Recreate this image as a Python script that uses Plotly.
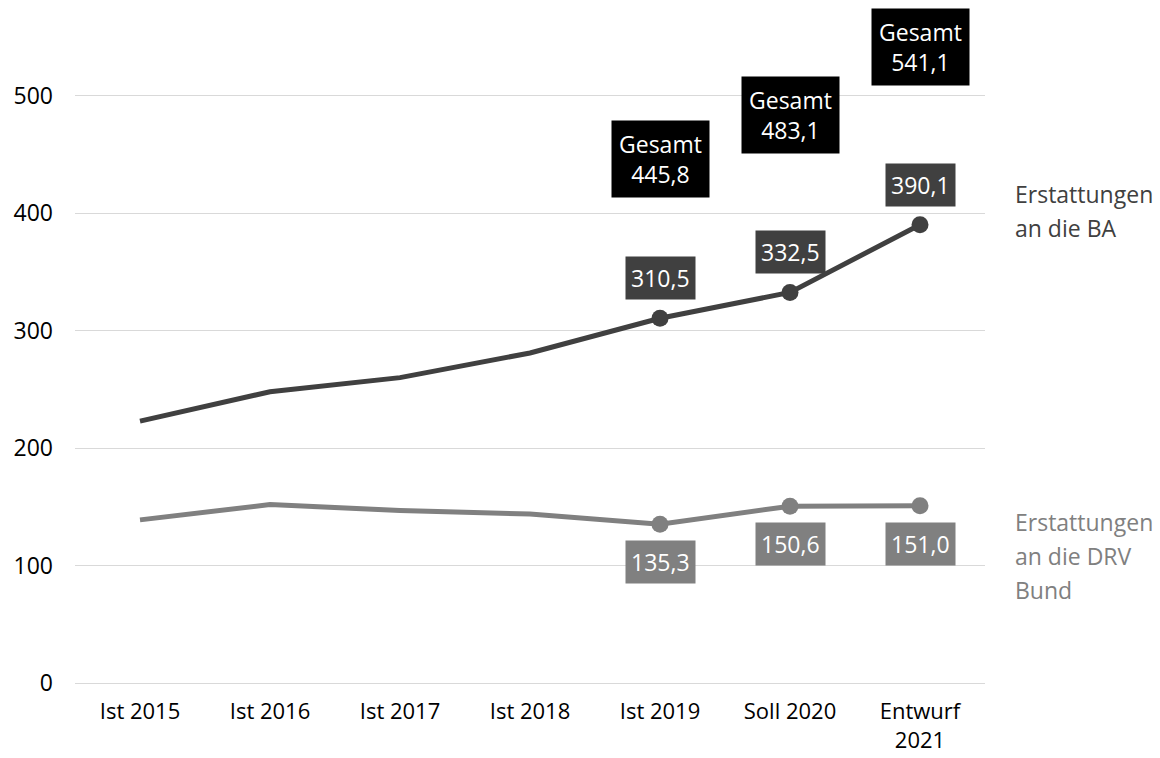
import plotly.graph_objects as go

categories = ["Ist 2015", "Ist 2016", "Ist 2017", "Ist 2018", "Ist 2019", "Soll 2020", "Entwurf<br>2021"]
ba_values = [223, 248, 260, 281, 310.5, 332.5, 390.1]
drv_values = [139, 152, 147, 144, 135.3, 150.6, 151.0]
total_values = [None, None, None, None, 445.8, 483.1, 541.1]
labelled = [4, 5, 6]
ba_name_lines = ["Erstattungen", "an die BA"]
drv_name_lines = ["Erstattungen", "an die DRV", "Bund"]

BA_COLOR = "#404040"
DRV_COLOR = "#808080"
FONT = "Open Sans"
FS = 23

x_idx = list(range(len(categories)))

fig = go.Figure()
for vals, col in [(ba_values, BA_COLOR), (drv_values, DRV_COLOR)]:
    fig.add_trace(go.Scatter(x=x_idx, y=vals, mode="lines", line=dict(color=col, width=5),
                             showlegend=False, hoverinfo="skip"))
    fig.add_trace(go.Scatter(x=[x_idx[i] for i in labelled], y=[vals[i] for i in labelled],
                             mode="markers", marker=dict(color=col, size=17),
                             showlegend=False, hoverinfo="skip", cliponaxis=False))

def fmt(v):
    return f"{v:.1f}".replace(".", ",")

ann = []
for i in labelled:
    ann.append(dict(x=x_idx[i], y=ba_values[i], xref="x", yref="y", yshift=40,
                    text=fmt(ba_values[i]), showarrow=False, bgcolor=BA_COLOR,
                    font=dict(color="white", size=FS, family=FONT), borderpad=5))
    ann.append(dict(x=x_idx[i], y=drv_values[i], xref="x", yref="y", yshift=-38,
                    text=fmt(drv_values[i]), showarrow=False, bgcolor=DRV_COLOR,
                    font=dict(color="white", size=FS, family=FONT), borderpad=5))
    ann.append(dict(x=x_idx[i], y=total_values[i], xref="x", yref="y",
                    text="Gesamt<br>" + fmt(total_values[i]), showarrow=False, bgcolor="#000000",
                    font=dict(color="white", size=FS, family=FONT), borderpad=7))

LINE_H = 34
for k, line in enumerate(ba_name_lines):
    ann.append(dict(x=1, xref="paper", xshift=28, xanchor="left", y=ba_values[-1], yref="y",
                    yshift=31 - k * LINE_H, text=line, showarrow=False, align="left",
                    font=dict(color=BA_COLOR, size=FS, family=FONT)))
for k, line in enumerate(drv_name_lines):
    ann.append(dict(x=1, xref="paper", xshift=28, xanchor="left", y=drv_values[-1], yref="y",
                    yshift=-16 - k * LINE_H, text=line, showarrow=False, align="left",
                    font=dict(color=DRV_COLOR, size=FS, family=FONT)))

fig.update_layout(
    width=1160, height=758,
    margin=dict(l=75, r=175, t=25, b=63),
    paper_bgcolor="white", plot_bgcolor="white",
    font=dict(family=FONT, size=FS, color="#000000"),
    annotations=ann,
    xaxis=dict(tickmode="array", tickvals=x_idx, ticktext=categories, range=[-0.5, 6.5],
               showgrid=False, zeroline=False, showline=False, ticks="", automargin=False,
               ticklabelstandoff=1,
               tickfont=dict(size=22, family=FONT, color="#000000")),
    yaxis=dict(range=[-10, 560], tickvals=[0, 100, 200, 300, 400, 500], showgrid=True,
               gridcolor="#d9d9d9", gridwidth=1, zeroline=False, showline=False, ticks="",
               ticklabelstandoff=21, automargin=False,
               tickfont=dict(size=FS, family=FONT, color="#000000")),
)

fig.write_html("out.html")
